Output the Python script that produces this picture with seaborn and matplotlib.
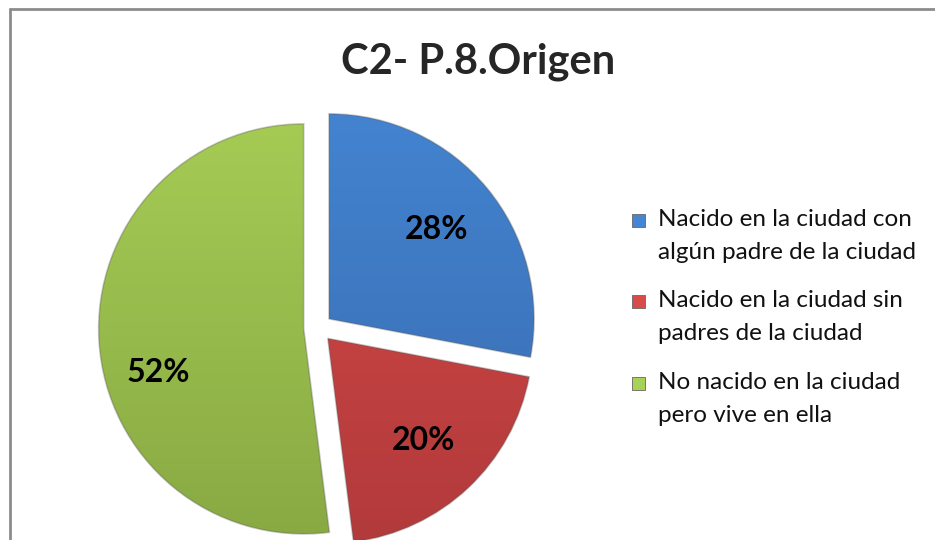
import numpy as np
import matplotlib
matplotlib.use("Agg")
import matplotlib.pyplot as plt
import seaborn as sns
from matplotlib.colors import LinearSegmentedColormap
from matplotlib.patches import Rectangle
from matplotlib.lines import Line2D

# data
categories = ["Nacido en la ciudad con\nalgún padre de la ciudad",
              "Nacido en la ciudad sin\npadres de la ciudad",
              "No nacido en la ciudad\npero vive en ella"]
shares = [28, 20, 52]
title = "C2- P.8.Origen"

# top / bottom shades of each slice (Excel-like gradient)
tops = ["#4586D4", "#D94B48", "#A9D057"]
bottoms = ["#3668AA", "#AE383A", "#85A541"]

sns.set_theme(style="white")
plt.rcParams["font.family"] = ["Lato", "DejaVu Sans"]

W, H = 935, 540
fig = plt.figure(figsize=(W / 100, H / 100), dpi=100)

# pie axes placed in pixel terms
r_px = 205
cx, cy = 318, 212
lim = 1.3
side = 2 * lim * r_px
ax = fig.add_axes([(cx - side / 2) / W, (cy - side / 2) / H, side / W, side / H])

wedges, texts, autotexts = ax.pie(
    shares, startangle=90, counterclock=False, explode=[0.07] * 3,
    colors=tops, autopct="%1.0f%%", pctdistance=0.68,
    wedgeprops=dict(linewidth=1.2, edgecolor="#55555555"),
    textprops=dict(fontsize=23, fontweight="bold", color="black"))

# vertical gradient inside each wedge
grad = np.linspace(0, 1, 256).reshape(-1, 1)
for w, t, b in zip(wedges, tops, bottoms):
    cmap = LinearSegmentedColormap.from_list("g", [b, t])
    im = ax.imshow(grad, cmap=cmap, origin="lower", aspect="auto",
                   extent=(-1.3, 1.3, -1.3, 1.3), zorder=w.get_zorder())
    im.set_clip_path(w)
    w.set_facecolor("none")
    w.set_zorder(w.get_zorder() + 0.1)

for t in autotexts:
    t.set_zorder(5)
# green label sits a bit lower in the original
x, y = autotexts[2].get_position()
autotexts[2].set_position((x - 0.03, y - 0.17))

ax.set_xlim(-lim, lim)
ax.set_ylim(-lim, lim)
ax.axis("off")

fig.text(478 / W, 1 - 62 / H, title, ha="center", va="center",
         fontsize=30, fontweight="bold")

# legend drawn by hand: square marker beside a two-line label
entry_tops = [209, 290, 372]
for lab, col, yt in zip(categories, tops, entry_tops):
    fig.patches.append(Rectangle((632 / W, 1 - (yt + 18) / H), 13 / W, 13 / H,
                                 transform=fig.transFigure, facecolor=col,
                                 edgecolor="#666666", linewidth=0.6))
    fig.text(658 / W, 1 - yt / H, lab, ha="left", va="top", fontsize=17.5,
             linespacing=1.7, color="#111111")

# chart frame (left and top edges only are visible)
fig.add_artist(Line2D([10 / W, 10 / W], [0, 1 - 9 / H], color="#8c8c8c", lw=2))
fig.add_artist(Line2D([10 / W, 1], [1 - 9 / H, 1 - 9 / H], color="#8c8c8c", lw=2))

fig.savefig("out.png", dpi=100)
